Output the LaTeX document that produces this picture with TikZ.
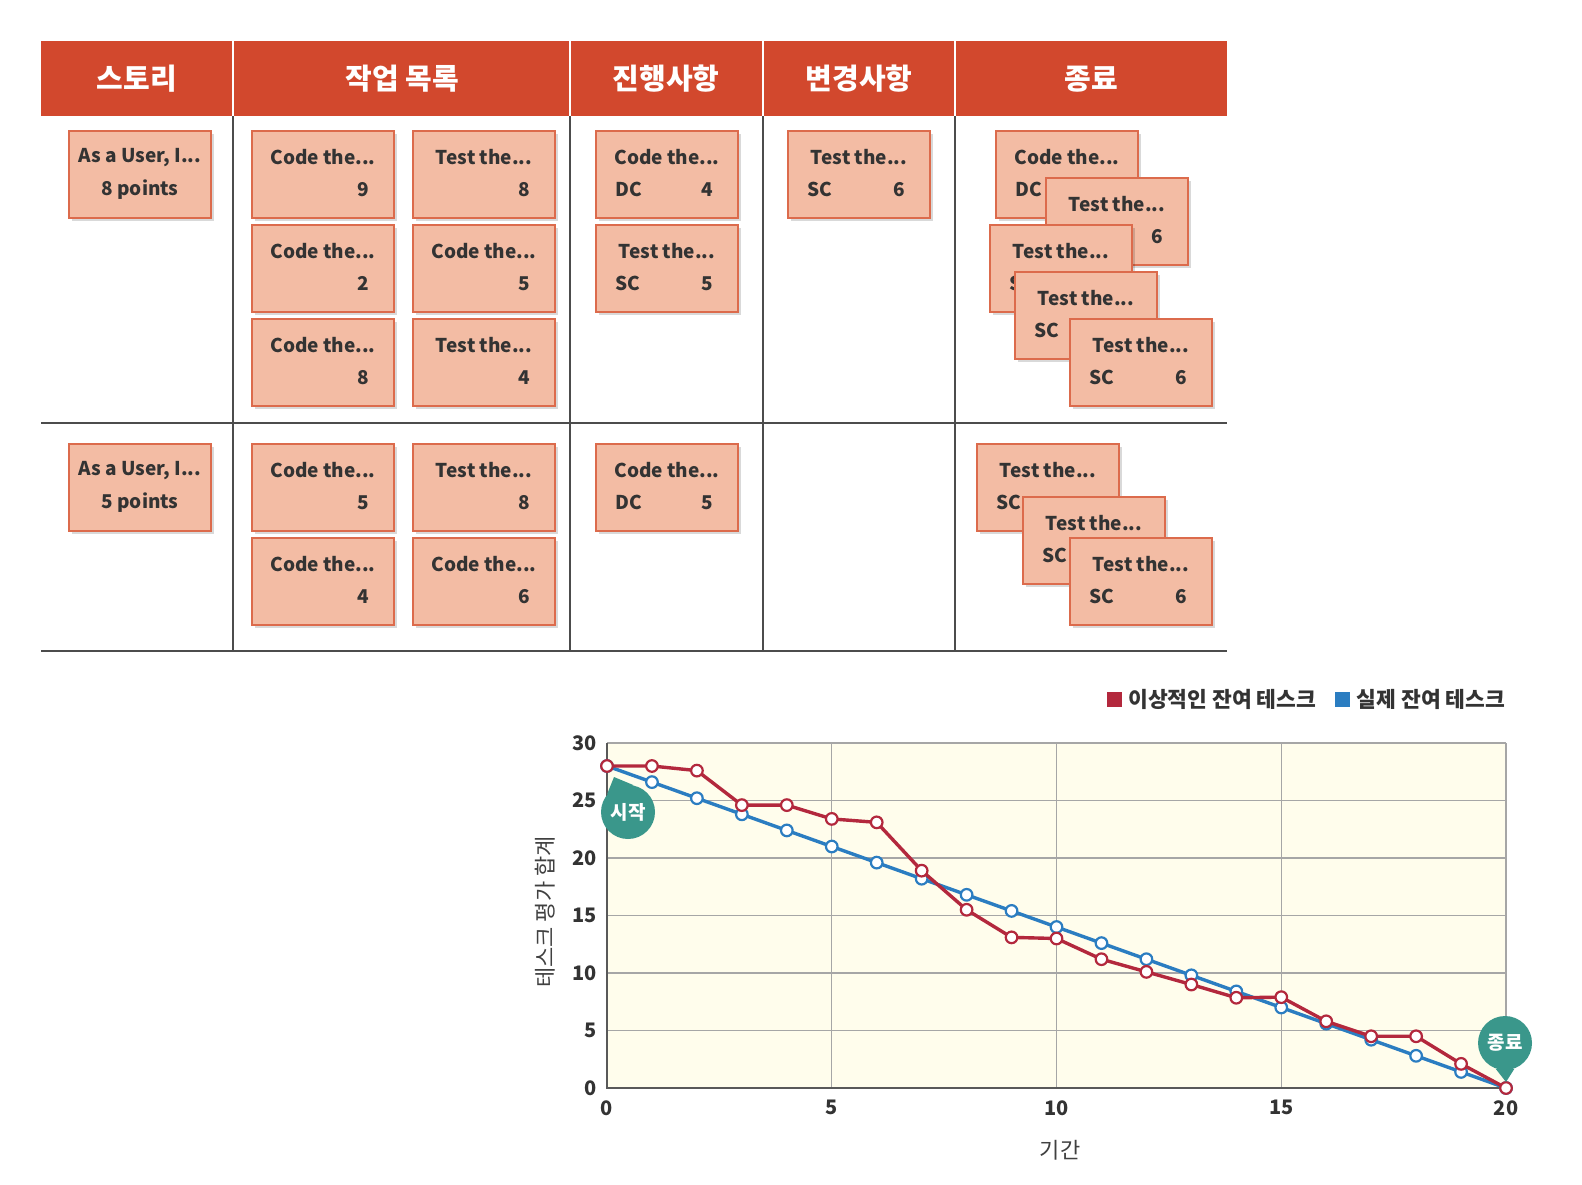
\documentclass[tikz,border=0pt]{standalone}
\usepackage{fontspec}
\setmainfont{Noto Sans CJK KR}
\usetikzlibrary{positioning,shadows}

\definecolor{hdr}{HTML}{D2482D}
\definecolor{cardfill}{HTML}{F3BCA4}
\definecolor{carddraw}{HTML}{DC6B4C}
\definecolor{ideal}{HTML}{B3283D}
\definecolor{actual}{HTML}{2B7DC1}
\definecolor{callout}{HTML}{3A978B}
\definecolor{plotbg}{HTML}{FFFDEC}

\newcommand{\taskcard}[6]{%
  \node[card] (#1) at (#2,#3) {};
  \node[cardtxt] (#1t) at ([yshift=-13.6pt]#1.north) {#4};
  \node[cardtxt, anchor=west] (#1l) at ([xshift=10pt, yshift=-29.8pt]#1.north west) {#5};
  \node[cardtxt, anchor=east] (#1r) at ([xshift=-13pt, yshift=-29.8pt]#1.north east) {#6};
}
\newcommand{\storycard}[5]{%
  \node[card] (#1) at (#2,#3) {};
  \node[cardtxt] (#1t) at ([yshift=-13.6pt]#1.north) {#4};
  \node[cardtxt] (#1p) at ([yshift=-29.8pt]#1.north) {#5};
}

\begin{document}
\begin{tikzpicture}[x=0.5pt, y=-0.5pt,
  card/.style={draw=carddraw, line width=1pt, fill=cardfill, anchor=north west,
    minimum width=71pt, minimum height=43.5pt, inner sep=0pt,
    drop shadow={shadow xshift=1.5pt, shadow yshift=-1.5pt, opacity=0.15, fill=black}},
  cardtxt/.style={font=\fontsize{9.5}{11}\selectfont\bfseries, text=black!80, inner sep=0pt},
  hdrtxt/.style={font=\fontsize{14.5}{16}\selectfont\bfseries, text=white},
  boardline/.style={draw=black!70, line width=1pt},
  gridline/.style={draw=black!35, line width=0.7pt},
  axisline/.style={draw=black!65, line width=0.9pt},
  ticktxt/.style={font=\fontsize{10}{12}\selectfont\bfseries, text=black!80, inner sep=0pt},
  axistitle/.style={font=\fontsize{11}{12}\selectfont, text=black!75, inner sep=0pt},
  legendbox/.style={minimum size=7.5pt, inner sep=0pt},
  legendtxt/.style={font=\fontsize{10.75}{12}\selectfont\bfseries, text=black!80, inner sep=0pt},
  bubble/.style={circle, fill=callout, minimum size=27pt, inner sep=0pt,
    font=\fontsize{9.5}{11}\selectfont\bfseries, text=white},
  idealline/.style={draw=ideal, line width=1.7pt},
  actualline/.style={draw=actual, line width=1.7pt}]
\useasboundingbox (0,0) rectangle (1582,1184);

% board
\fill[hdr] (41,41) rectangle (1227,116);
\foreach \cx in {233,570,763,955} {
  \draw[white, line width=0.8pt] (\cx,41) -- (\cx,116);
  \draw[boardline] (\cx,116) -- (\cx,651);
}
\draw[boardline] (41,423) -- (1227,423);
\draw[boardline] (41,651) -- (1227,651);
\node[hdrtxt] (hstory) at (137,79) {스토리};
\node[hdrtxt] (htasks) at (402,79) {작업 목록};
\node[hdrtxt] (hdoing) at (666,79) {진행사항};
\node[hdrtxt] (hchange) at (859,79) {변경사항};
\node[hdrtxt] (hdone) at (1091,79) {종료};

\storycard{sa}{68}{130}{As a User, I...}{8 points}
\taskcard{ta1}{251}{130}{Code the...}{}{9}
\taskcard{ta2}{412}{130}{Test the...}{}{8}
\taskcard{ta3}{251}{224}{Code the...}{}{2}
\taskcard{ta4}{412}{224}{Code the...}{}{5}
\taskcard{ta5}{251}{318}{Code the...}{}{8}
\taskcard{ta6}{412}{318}{Test the...}{}{4}
\taskcard{pa1}{595}{130}{Code the...}{DC}{4}
\taskcard{pa2}{595}{224}{Test the...}{SC}{5}
\taskcard{ca1}{787}{130}{Test the...}{SC}{6}
\taskcard{da1}{995}{130}{Code the...}{DC}{}
\taskcard{da2}{1045}{177}{Test the...}{}{6}
\taskcard{da3}{989}{224}{Test the...}{SC}{}
\taskcard{da4}{1014}{271}{Test the...}{SC}{}
\taskcard{da5}{1069}{318}{Test the...}{SC}{6}

\storycard{sb}{68}{443}{As a User, I...}{5 points}
\taskcard{tb1}{251}{443}{Code the...}{}{5}
\taskcard{tb2}{412}{443}{Test the...}{}{8}
\taskcard{tb3}{251}{537}{Code the...}{}{4}
\taskcard{tb4}{412}{537}{Code the...}{}{6}
\taskcard{pb1}{595}{443}{Code the...}{DC}{5}
\taskcard{db1}{976}{443}{Test the...}{SC}{}
\taskcard{db2}{1022}{496}{Test the...}{SC}{}
\taskcard{db3}{1069}{537}{Test the...}{SC}{6}

% burndown chart
\begin{scope}[shift={(607,1088)}, x=22.475pt, y=5.75pt]
  \fill[plotbg] (0,0) rectangle (20,30);
  \foreach \g in {5,10,...,30} \draw[gridline] (0,\g) -- (20,\g);
  \foreach \g in {5,10,15,20} \draw[gridline] (\g,0) -- (\g,30);
  \draw[axisline] (0,30) -- (0,0) -- (20,0);
  \foreach \g in {0,5,...,30}
    \node[ticktxt, anchor=east] (yt\g) at ([xshift=-5pt]0,\g) {\g};
  \foreach \g in {0,5,...,20}
    \node[ticktxt, anchor=north] (xt\g) at ([yshift=-6pt]\g,0) {\g};
  \draw[actualline] plot[domain=0:20, samples=21, mark=*, mark size=2.9pt,
    mark options={fill=white, line width=1.1pt}] (\x,{28-1.4*\x});
  \draw[idealline] plot[mark=*, mark size=2.9pt, mark options={fill=white, line width=1.1pt}]
    coordinates {(0,28) (1,28) (2,27.6) (3,24.6) (4,24.6) (5,23.4) (6,23.1) (7,18.9)
      (8,15.5) (9,13.1) (10,13) (11,11.2) (12,10.1) (13,9) (14,7.85) (15,7.9)
      (16,5.8) (17,4.5) (18,4.5) (19,2.1) (20,0)};
\end{scope}

\node[bubble] (start) at (628,812) {시작};
\fill[callout] (start.78) -- (614,777) -- (start.140) -- cycle;
\node[bubble] (finish) at (1505,1043) {종료};
\fill[callout] (finish.250) -- (1506,1082) -- (finish.290) -- cycle;

\node[legendbox, fill=ideal] (keyideal) at (1114,699) {};
\node[legendtxt, right=3pt of keyideal] (txtideal) {이상적인 잔여 테스크};
\node[legendbox, fill=actual, right=9pt of txtideal] (keyactual) {};
\node[legendtxt, right=3pt of keyactual] (txtactual) {실제 잔여 테스크};

\node[axistitle, rotate=90] (ytitle) at (545,912) {테스크 평가 합계};
\node[axistitle] (xtitle) at (1060,1150) {기간};
\end{tikzpicture}
\end{document}
